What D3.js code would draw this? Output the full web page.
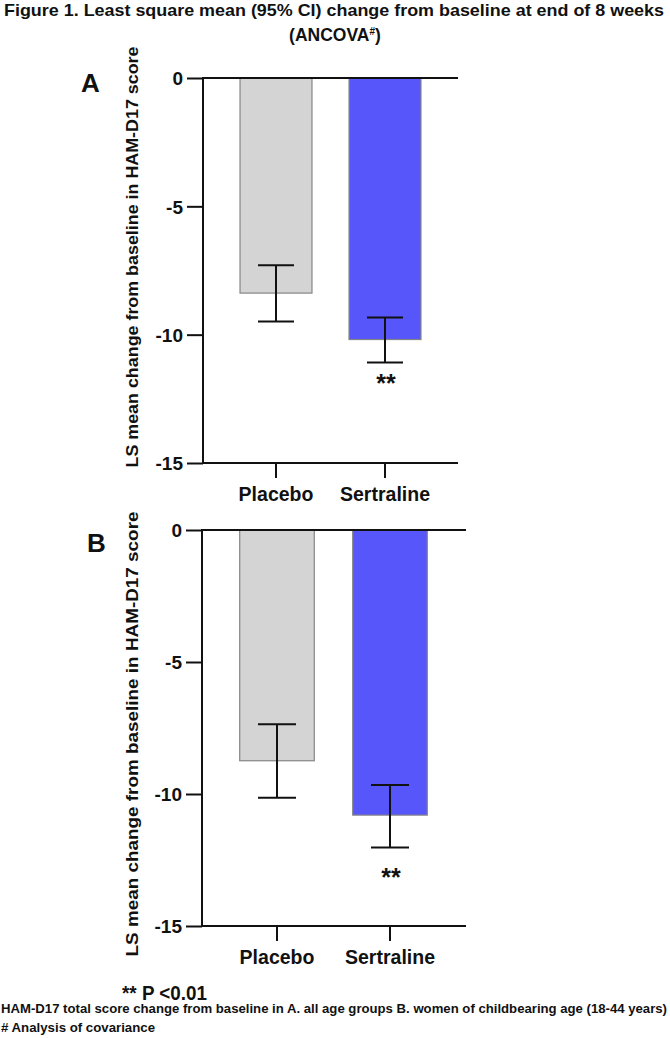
<!DOCTYPE html>
<html>
<head>
<meta charset="utf-8">
<script src="https://cdn.jsdelivr.net/npm/d3@7"></script>
<style>
  body { margin: 0; background: #fff; }
  svg { display: block; }
  text { font-family: "Liberation Sans", Arial, sans-serif; font-weight: bold; fill: #111; }
  .narrow { font-family: "Liberation Sans Narrow", "Arial Narrow", "Liberation Sans", Arial, sans-serif; }
</style>
</head>
<body>
<script>
// data
var groups = ["Placebo", "Sertraline"];
var panelNames = ["A", "B"];
// A = all age groups, B = women of childbearing age
var meanA = [-8.38, -10.19];
var ciHighA = [-7.30, -9.33];
var ciLowA = [-9.49, -11.08];
var meanB = [-8.74, -10.80];
var ciHighB = [-7.36, -9.66];
var ciLowB = [-10.14, -12.03];
var sigA = ["", "**"];
var sigB = ["", "**"];
var yTicks = [0, -5, -10, -15];
var yDomain = [-15, 0];
var yLabel = "LS mean change from baseline in HAM-D17 score";

var titleLine1 = "Figure 1. Least square mean (95% CI) change from baseline at end of 8 weeks";
var footP = "** P <0.01";
var footNote1 = "HAM-D17 total score change from baseline in A. all age groups B. women of childbearing age (18-44 years)";
var footNote2 = "# Analysis of covariance";

var colors = ["#d4d4d4", "#5656fb"];

var svg = d3.select("body").append("svg")
    .attr("width", 670)
    .attr("height", 1038);

// title
svg.append("text")
    .attr("class", "narrow")
    .attr("x", 334).attr("y", 16)
    .attr("text-anchor", "middle")
    .attr("textLength", 660)
    .attr("lengthAdjust", "spacingAndGlyphs")
    .style("font-size", "17px")
    .text(titleLine1);

var t2 = svg.append("text")
    .attr("class", "narrow")
    .attr("x", 335).attr("y", 41)
    .attr("text-anchor", "middle")
    .style("font-size", "17.5px");
t2.append("tspan").text("(ANCOVA");
t2.append("tspan").attr("dy", -6).style("font-size", "10px").text("#");
t2.append("tspan").attr("dy", 6).text(")");

// panel layouts
var panels = [
  {name: panelNames[0], mean: meanA, hi: ciHighA, lo: ciLowA, sig: sigA,
   top: 78, bottom: 463, left: 203, right: 458, bandL: 221.5, bandR: 439.5,
   cap: 36, lab: 502, letterX: 81, letterY: 92, ylabX: 138, ylabLen: 421, ylabY: 257, sigOff: 30},
  {name: panelNames[1], mean: meanB, hi: ciHighB, lo: ciLowB, sig: sigB,
   top: 530, bottom: 926, left: 202, right: 466, bandL: 220.5, bandR: 446.5,
   cap: 38, lab: 965, letterX: 87, letterY: 552, ylabX: 138, ylabLen: 445, ylabY: 734, sigOff: 38}
];

panels.forEach(function(p) {
  var g = svg.append("g");

  var y = d3.scaleLinear().domain(yDomain).range([p.bottom, p.top]);
  var x = d3.scaleBand().domain(groups)
      .range([p.bandL, p.bandR])
      .paddingInner(0.34).paddingOuter(0.17);

  var rows = groups.map(function(d, i) {
    return {group: d, mean: p.mean[i], hi: p.hi[i], lo: p.lo[i], sig: p.sig[i], color: colors[i]};
  });

  // bars
  g.selectAll(".bar")
      .data(rows)
    .enter().append("rect")
      .attr("class", "bar")
      .attr("x", function(d) { return x(d.group); })
      .attr("width", x.bandwidth())
      .attr("y", y(0))
      .attr("height", function(d) { return y(d.mean) - y(0); })
      .attr("fill", function(d) { return d.color; })
      .attr("stroke", "#858585")
      .attr("stroke-width", 1.2);

  // error bars
  var eb = g.selectAll(".err")
      .data(rows)
    .enter().append("g")
      .attr("class", "err")
      .attr("stroke", "#111")
      .attr("stroke-width", 2);
  eb.append("line")
      .attr("x1", function(d) { return x(d.group) + x.bandwidth() / 2; })
      .attr("x2", function(d) { return x(d.group) + x.bandwidth() / 2; })
      .attr("y1", function(d) { return y(d.hi); })
      .attr("y2", function(d) { return y(d.lo); });
  ["hi", "lo"].forEach(function(k) {
    eb.append("line")
        .attr("x1", function(d) { return x(d.group) + x.bandwidth() / 2 - p.cap / 2; })
        .attr("x2", function(d) { return x(d.group) + x.bandwidth() / 2 + p.cap / 2; })
        .attr("y1", function(d) { return y(d[k]); })
        .attr("y2", function(d) { return y(d[k]); });
  });

  // significance stars
  g.selectAll(".sig")
      .data(rows)
    .enter().append("text")
      .attr("class", "sig")
      .attr("x", function(d) { return x(d.group) + x.bandwidth() / 2 + 1; })
      .attr("y", function(d) { return y(d.lo) + p.sigOff; })
      .attr("text-anchor", "middle")
      .style("font-size", "25px")
      .text(function(d) { return d.sig; });

  // y axis
  var yAxis = d3.axisLeft(y).tickValues(yTicks).tickSize(16).tickPadding(4)
      .tickFormat(function(d) { return d === 0 ? "0" : "-" + Math.abs(d); });
  var ya = g.append("g")
      .attr("transform", "translate(" + p.left + ",0)")
      .call(yAxis);
  ya.select(".domain").remove();
  ya.selectAll("line").attr("stroke", "#111").attr("stroke-width", 2);
  ya.selectAll("text")
      .style("font-size", "19px")
      .style("font-weight", "bold")
      .style("font-family", "'Liberation Sans', Arial, sans-serif")
      .attr("fill", "#111").attr("dy", "0.36em");

  // frame: vertical axis + lines at 0 and -15
  g.append("line")
      .attr("x1", p.left).attr("x2", p.left)
      .attr("y1", y(0) - 1).attr("y2", y(-15) + 1)
      .attr("stroke", "#111").attr("stroke-width", 2);
  [0, -15].forEach(function(v) {
    g.append("line")
        .attr("x1", p.left).attr("x2", p.right)
        .attr("y1", y(v)).attr("y2", y(v))
        .attr("stroke", "#111").attr("stroke-width", 2);
  });

  // x axis ticks and labels
  var xAxis = d3.axisBottom(x).tickSize(15).tickPadding(9);
  var xa = g.append("g")
      .attr("transform", "translate(0," + y(-15) + ")")
      .call(xAxis);
  xa.select(".domain").remove();
  xa.selectAll("line").attr("stroke", "#111").attr("stroke-width", 2);
  xa.selectAll("text")
      .style("font-size", "19.5px")
      .style("font-weight", "bold")
      .style("font-family", "'Liberation Sans', Arial, sans-serif")
      .attr("fill", "#111");

  // y label
  g.append("text")
      .attr("transform", "translate(" + p.ylabX + "," + p.ylabY + ") rotate(-90)")
      .attr("text-anchor", "middle")
      .attr("textLength", p.ylabLen)
      .attr("lengthAdjust", "spacingAndGlyphs")
      .style("font-size", "16.5px")
      .text(yLabel);

  // panel letter
  g.append("text")
      .attr("x", p.letterX).attr("y", p.letterY)
      .style("font-size", "26px")
      .text(p.name);
});

// footnotes
svg.append("text")
    .attr("class", "narrow")
    .attr("x", 122).attr("y", 1000)
    .attr("textLength", 85)
    .attr("lengthAdjust", "spacingAndGlyphs")
    .style("font-size", "20px")
    .text(footP);

svg.append("text")
    .attr("class", "narrow")
    .attr("x", 1).attr("y", 1013)
    .attr("textLength", 666)
    .attr("lengthAdjust", "spacingAndGlyphs")
    .style("font-size", "12px")
    .text(footNote1);

svg.append("text")
    .attr("class", "narrow")
    .attr("x", 1).attr("y", 1032)
    .attr("textLength", 154)
    .attr("lengthAdjust", "spacingAndGlyphs")
    .style("font-size", "12px")
    .text(footNote2);
</script>
</body>
</html>
